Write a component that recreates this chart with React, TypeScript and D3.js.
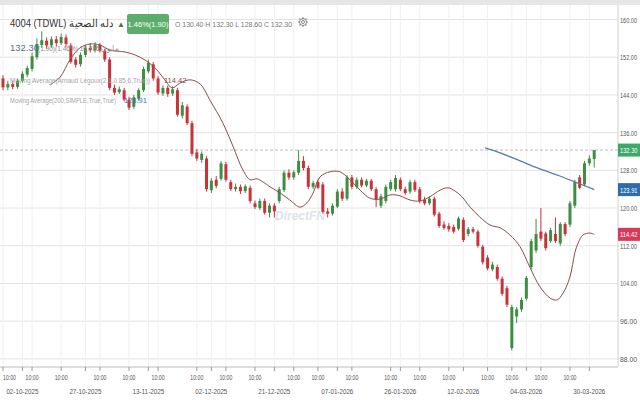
import React from "react";
import * as d3 from "d3";

// ---- Data ----
const opens = [147.5,145.6,146.3,145.7,147.0,148.3,149.5,152.0,154.6,155.5,154.5,155.8,155.0,156.2,154.5,151.5,150.5,152.5,154.0,153.5,154.6,153.4,151.5,145.5,144.6,145.0,143.0,141.5,143.2,145.0,149.0,150.5,147.5,144.3,145.5,144.3,145.0,139.6,141.5,138.0,131.8,130.2,130.5,123.8,126.0,126.2,129.3,125.5,124.0,124.5,123.6,124.3,121.0,120.0,121.5,119.0,120.5,121.5,123.8,127.5,126.5,127.5,130.0,128.5,124.5,125.5,125.0,119.3,118.8,120.3,123.5,122.0,126.5,124.5,126.0,124.8,125.8,124.0,120.5,121.5,124.0,124.0,126.0,124.0,123.5,125.5,124.0,121.8,121.0,122.0,118.8,116.5,116.2,116.0,115.6,117.5,114.5,115.5,115.0,111.8,109.5,107.0,107.5,105.0,103.0,90.3,97.0,98.5,100.8,107.5,111.0,115.0,114.6,113.0,114.5,112.5,116.6,116.5,120.5,126.5,125.0,129.5,130.4];
const highs = [148.2,147.0,147.0,147.5,149.0,150.2,153.0,156.0,157.5,156.2,156.4,156.5,157.0,156.8,155.0,152.0,153.0,154.6,155.0,155.2,155.0,153.8,152.0,146.2,145.8,145.5,143.6,144.0,145.4,150.0,151.5,151.0,148.0,146.0,146.0,145.8,145.5,142.5,142.0,138.5,132.5,132.0,131.0,126.3,126.8,130.0,129.8,126.0,125.2,125.0,125.0,124.8,121.6,122.0,122.0,121.0,121.0,124.5,128.0,128.2,128.0,132.3,131.0,129.0,125.8,126.0,125.5,120.0,121.0,124.0,124.2,127.0,127.0,126.5,126.5,126.2,126.2,124.4,123.0,125.0,126.0,127.0,126.5,124.5,126.0,126.0,124.5,122.4,122.5,122.4,119.2,117.2,116.8,116.5,118.2,118.0,116.0,116.0,115.4,112.2,110.0,108.6,108.0,105.5,103.5,99.5,99.0,101.0,105.6,113.5,117.7,120.0,115.0,115.8,118.0,117.0,117.0,121.5,126.0,127.0,130.0,131.2,132.3];
const lows = [145.0,145.0,145.2,145.3,146.6,147.8,149.0,151.5,154.0,153.8,154.0,154.3,154.6,154.2,150.6,149.8,150.0,152.0,153.0,153.0,153.0,151.0,145.0,144.0,144.2,142.6,140.8,141.0,142.8,144.6,148.6,147.0,144.0,143.8,143.6,143.8,139.4,139.0,137.6,131.0,130.0,129.6,123.5,123.2,124.2,125.8,125.6,123.6,123.5,123.0,123.2,121.0,119.8,119.6,118.6,118.0,118.0,121.0,123.4,126.0,126.0,127.0,128.0,124.0,124.0,124.0,118.8,118.0,118.4,120.0,121.5,121.6,124.0,124.0,124.4,124.4,123.6,120.2,120.0,121.0,123.6,123.5,123.6,122.8,123.0,123.4,121.0,120.6,120.6,118.2,115.8,115.4,115.0,114.6,115.2,112.8,114.0,114.6,111.6,108.0,106.8,106.6,104.6,101.4,99.0,89.8,95.6,98.0,100.4,107.0,110.5,113.0,111.0,112.6,112.6,112.0,114.0,116.0,120.0,124.0,124.6,129.0,128.6];
const closes = [145.6,146.3,145.7,147.0,148.5,149.7,152.2,154.8,155.6,154.5,155.8,155.0,156.3,154.8,151.0,150.4,152.5,154.0,153.5,154.6,153.4,151.5,145.5,144.5,145.2,143.0,141.3,143.5,145.0,149.5,150.8,147.5,144.5,145.5,144.2,145.2,139.8,141.8,138.0,131.5,130.5,131.5,124.0,125.8,124.7,129.5,126.0,124.0,124.5,123.6,124.6,121.5,120.2,121.5,119.0,120.5,119.3,124.0,127.5,126.5,127.6,130.0,128.5,124.5,125.3,124.3,119.2,118.8,120.5,123.5,122.0,126.5,124.5,126.0,124.8,125.8,124.0,121.8,122.5,124.5,125.5,126.4,124.0,123.2,125.5,123.8,121.5,121.0,122.0,118.6,116.2,115.8,115.5,115.0,117.8,113.2,115.5,115.0,112.0,108.5,107.2,108.0,105.0,101.8,99.5,99.0,98.5,100.5,105.2,113.0,114.5,113.5,111.5,115.3,113.0,116.6,114.5,121.0,125.5,124.3,129.5,130.5,132.3];

// Moving averages: [candle index, value]
const almaPoints: [number, number][] = [[9.7,146.1],[11.8,147.8],[13.8,151.4],[15.9,154.0],[18.0,154.8],[20.0,154.6],[22.1,153.5],[25.2,153.1],[27.2,152.5],[29.3,151.4],[31.4,149.7],[33.4,147.2],[34.9,145.5],[36.5,146.5],[38.6,147.2],[40.7,146.3],[42.7,142.9],[45.4,138.0],[47.5,133.0],[49.5,128.1],[51.0,126.0],[52.4,126.2],[53.7,125.5],[55.1,124.5],[57.2,123.2],[59.2,121.7],[61.3,120.2],[62.7,121.1],[64.0,123.2],[65.4,126.6],[67.5,127.7],[69.5,127.7],[71.6,126.0],[73.7,123.8],[75.7,122.1],[77.8,121.9],[79.9,122.8],[81.9,122.6],[84.0,121.7],[86.1,121.5],[88.1,122.4],[90.2,123.8],[91.8,124.3],[93.3,123.6],[94.7,122.4],[96.4,120.2],[98.4,118.1],[100.5,116.4],[102.6,115.8],[104.6,114.3],[106.7,111.8],[108.7,107.5],[110.8,103.3],[112.9,100.9],[114.3,100.5],[115.6,102.0],[117.0,105.4],[118.0,110.5],[118.7,112.6],[119.7,114.3],[121.1,114.7],[122.0,114.42]];
const smaPoints: [number, number][] = [[99.5,132.75],[102.6,131.7],[106.7,130.0],[110.8,128.3],[114.9,126.8],[119.1,125.1],[122.0,123.91]];

const priceTicks = [88, 96, 104, 112, 120, 128, 136, 144, 152, 160];
const timeTickIdx = [0, 6, 12, 20, 26, 32, 40, 46, 52, 60, 65, 72, 80, 86, 92, 100, 105, 111, 117];
const dateTickIdx = [4, 17, 30, 43, 56, 69, 82, 95, 108, 121];
const dateLabels = ["02-10-2025","27-10-2025","13-11-2025","02-12-2025","21-12-2025","07-01-2026","26-01-2026","12-02-2026","04-03-2026","30-03-2026"];

const lastClose = 132.3;
const almaLast = 114.42;
const smaLast = 123.91;

const W = 640, H = 400;
const plotRight = 618;
const axisY = 367;
const UP = "#3e8e41";
const DOWN = "#c8323a";
const FONT = "'Liberation Sans', Arial, sans-serif";

export default function App() {
  const x = d3.scaleLinear().domain([0, closes.length - 1]).range([3, 594.2]);
  const y = d3.scaleLinear().domain([88, 160]).range([358.9, 19.5]);
  const almaLine = d3.line<[number, number]>().x(d => x(d[0])).y(d => y(d[1])).curve(d3.curveCatmullRom);
  const smaLine = d3.line<[number, number]>().x(d => x(d[0])).y(d => y(d[1])).curve(d3.curveMonotoneX);
  const bw = 3;

  const allTicks = [...timeTickIdx, ...dateTickIdx];

  return (
    <svg width={W} height={H} style={{ position: "absolute", left: 0, top: 0, background: "#fff" }} fontFamily={FONT}>
      <rect x={0} y={0} width={W} height={H} fill="#fff" />
      <rect x={0} y={0} width={W} height={5} fill="#e6e6e6" />
      {/* grid */}
      {priceTicks.map(p => (
        <line key={"h" + p} x1={0} x2={plotRight} y1={y(p)} y2={y(p)} stroke="#e3e3e3" strokeWidth={1} />
      ))}
      {allTicks.map(i => (
        <line key={"v" + i} x1={x(i)} x2={x(i)} y1={5} y2={axisY} stroke="#f0f0f0" strokeWidth={1} />
      ))}
      {/* dashed last price */}
      <line x1={0} x2={plotRight} y1={y(lastClose)} y2={y(lastClose)} stroke="#aaa" strokeDasharray="3,2" strokeWidth={0.8} />

      {/* watermark */}
      <text x={300} y={220} textAnchor="middle" fontSize={12} fontWeight="bold" fontStyle="italic" fill="#dde3ea">DirectFN</text>

      {/* candles */}
      {closes.map((c, i) => {
        const o = opens[i];
        const up = c >= o;
        const col = up ? UP : DOWN;
        const top = y(Math.max(o, c));
        const h = Math.max(1, Math.abs(y(o) - y(c)));
        return (
          <g key={"c" + i}>
            <line x1={x(i)} x2={x(i)} y1={y(highs[i])} y2={y(lows[i])} stroke={col} strokeWidth={1} />
            <rect x={x(i) - bw / 2} y={top} width={bw} height={h} fill={col} />
          </g>
        );
      })}

      {/* moving averages */}
      <path d={almaLine(almaPoints) || ""} fill="none" stroke="#8e4b4b" strokeWidth={1} />
      <path d={smaLine(smaPoints) || ""} fill="none" stroke="#5b7ea6" strokeWidth={1.3} />

      {/* header */}
      <text x={10} y={27} fontSize={10.5} fill="#333" textLength={103} lengthAdjust="spacingAndGlyphs">4004 (TDWL) دله الصحية</text>
      <text x={117} y={27} fontSize={8} fill="#3e7a3e">▲</text>
      <rect x={127} y={14} width={42} height={20} rx={2} fill="#5cad6a" />
      <text x={148} y={27} textAnchor="middle" fontSize={7.5} fill="#fff">1.46%(1.90)</text>
      <text x={175} y={27} fontSize={7.5} fill="#777" textLength={117} lengthAdjust="spacingAndGlyphs">O  130.40   H  132.30   L  128.60   C  132.30</text>
      <g transform="translate(303,22)" stroke="#888" fill="none" strokeWidth={1}>
        <circle r={3.5} />
        <circle r={1.5} />
        {[0, 45, 90, 135, 180, 225, 270, 315].map(a => (
          <line key={a} x1={0} y1={-3.5} x2={0} y2={-5} transform={`rotate(${a})`} />
        ))}
      </g>
      <text x={10} y={51} fontSize={9.5} fill="#56708c">132.30</text>
      <text x={38} y={51} fontSize={7.5} fill="#8a8a8a" textLength={80} lengthAdjust="spacingAndGlyphs">(1.90)(1.46%)   10,786   مليون</text>
      <text x={10} y={83} fontSize={7} fill="#a5a5a5" textLength={140} lengthAdjust="spacingAndGlyphs">Moving Average(Arnaud Legoux(2,1,0.85,6,True))</text>
      <text x={164} y={83} fontSize={7.5} fill="#8e4b4b">114.42</text>
      <text x={10} y={103} fontSize={7} fill="#a5a5a5" textLength={106} lengthAdjust="spacingAndGlyphs">Moving Average(200,SIMPLE,True,True)</text>
      <text x={124} y={103} fontSize={7.5} fill="#3f6f9e">123.91</text>

      {/* right axis */}
      <line x1={plotRight} x2={plotRight} y1={5} y2={axisY} stroke="#cfcfcf" />
      {priceTicks.map(p => (
        <text key={"pt" + p} x={620} y={y(p) + 3} fontSize={7} fill="#555" textLength={17} lengthAdjust="spacingAndGlyphs">{p.toFixed(2)}</text>
      ))}
      <rect x={plotRight} y={y(lastClose) - 6.5} width={22} height={13} fill="#3ea86a" />
      <text x={620} y={y(lastClose) + 3} fontSize={7} fill="#fff" textLength={17.5} lengthAdjust="spacingAndGlyphs">{lastClose.toFixed(2)}</text>
      <rect x={plotRight} y={y(smaLast) - 6.5} width={22} height={13} fill="#2d6da8" />
      <text x={620} y={y(smaLast) + 3} fontSize={7} fill="#fff" textLength={17.5} lengthAdjust="spacingAndGlyphs">{smaLast.toFixed(2)}</text>
      <rect x={plotRight} y={y(almaLast) - 6.5} width={22} height={13} fill="#d83a5c" />
      <text x={620} y={y(almaLast) + 3} fontSize={7} fill="#fff" textLength={17.5} lengthAdjust="spacingAndGlyphs">{almaLast.toFixed(2)}</text>

      {/* bottom axis */}
      <line x1={0} x2={plotRight} y1={axisY} y2={axisY} stroke="#bdbdbd" />
      {allTicks.map(i => (
        <line key={"t" + i} x1={x(i)} x2={x(i)} y1={axisY} y2={axisY + 4} stroke="#999" />
      ))}
      {timeTickIdx.map(i => {
        const cx = x(i);
        const left = cx - 7 < 3;
        return (
          <text key={"tl" + i} x={left ? 3 : cx} y={380} textAnchor={left ? "start" : "middle"} fontSize={7.5} fill="#555" textLength={13} lengthAdjust="spacingAndGlyphs">10:00</text>
        );
      })}
      {dateTickIdx.map((i, k) => {
        const cx = x(i);
        const left = cx - 16 < 2;
        return (
          <text key={"dl" + i} x={left ? 2 : cx} y={394} textAnchor={left ? "start" : "middle"} fontSize={7.5} fill="#555" textLength={32} lengthAdjust="spacingAndGlyphs">{dateLabels[k]}</text>
        );
      })}
    </svg>
  );
}
